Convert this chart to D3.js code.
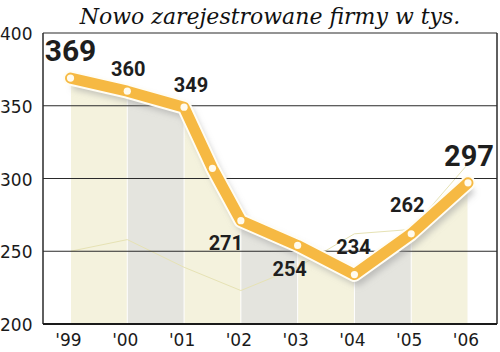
<!DOCTYPE html>
<html>
<head>
<meta charset="utf-8">
<script src="https://cdn.jsdelivr.net/npm/d3@7"></script>
<style>
  body { margin: 0; background: #fff; }
  svg { display: block; }
</style>
</head>
<body>
<div id="chart"></div>
<script>
// Newly registered firms (thousands), 1999-2006, with one extra mid-2001 reading.
const years = [1999, 2000, 2001, 2001.5, 2002, 2003, 2004, 2005, 2006];
const values = [369, 360, 349, 307, 271, 254, 234, 262, 297];
const labelled = [true, true, true, false, true, true, true, true, true];
const tickYears = [1999, 2000, 2001, 2002, 2003, 2004, 2005, 2006];
const tickLabels = ["'99", "'00", "'01", "'02", "'03", "'04", "'05", "'06"];
const yTicks = [200, 250, 300, 350, 400];
// faint background trace seen in the original graphic
const ghostValues = [250, 258, 239, 223, 239, 262, 265, 310];

// label placement relative to each point (dx, dy, font size)
const labelOffsets = [
  [0, -17, 30], [1, -15, 20], [7, -15, 20], null, [-15, 29, 20],
  [-8, 31, 20], [-1, -21, 20], [-4, -22, 20], [1, -17, 29]
];

const width = 500, height = 352;
const m = { top: 33, right: 3, bottom: 28, left: 43 };

const svg = d3.select('#chart').append('svg').attr('width', width).attr('height', height);

const x = d3.scaleLinear().domain([1999, 2006]).range([70.5, 468]);
const y = d3.scaleLinear().domain([200, 400]).range([height - m.bottom, m.top]);

const defs = svg.append('defs');
defs.append('filter').attr('id', 'shadow').attr('x', '-20%').attr('y', '-20%')
  .attr('width', '140%').attr('height', '140%')
  .append('feGaussianBlur').attr('stdDeviation', 3);

const line = d3.line().x((d, i) => x(years[i])).y(d => y(d));
const area = d3.area().x((d, i) => x(years[i])).y0(y(200)).y1(d => y(d));

defs.append('clipPath').attr('id', 'under')
  .append('path').attr('d', area(values));

// Alternating year columns, only shown below the line.
const cols = d3.range(tickYears.length - 1);
svg.append('g').attr('clip-path', 'url(#under)')
  .selectAll('rect').data(cols).enter().append('rect')
  .attr('x', i => x(tickYears[i]) + 0.5)
  .attr('width', i => x(tickYears[i + 1]) - x(tickYears[i]) - 1)
  .attr('y', m.top)
  .attr('height', y(200) - m.top)
  .attr('fill', i => i % 2 ? '#e4e4de' : '#f4f2dd');

// Faint ghost line
svg.append('path')
  .attr('d', d3.line().x((d, i) => x(tickYears[i])).y(d => y(d))(ghostValues))
  .attr('fill', 'none').attr('stroke', '#e6e2b4').attr('stroke-width', 1);

// Grid lines
svg.append('g').selectAll('line').data(yTicks.slice(1)).enter().append('line')
  .attr('x1', m.left).attr('x2', width - m.right)
  .attr('y1', d => y(d)).attr('y2', d => y(d))
  .attr('stroke', '#2a2a2a').attr('stroke-width', 1.2);

// Frame: left, right and bottom
svg.append('line').attr('x1', m.left).attr('x2', m.left)
  .attr('y1', y(400)).attr('y2', y(200)).attr('stroke', '#2a2a2a').attr('stroke-width', 1.5);
svg.append('line').attr('x1', width - m.right).attr('x2', width - m.right)
  .attr('y1', y(400)).attr('y2', y(200)).attr('stroke', '#2a2a2a').attr('stroke-width', 1.5);
svg.append('line').attr('x1', m.left).attr('x2', width - m.right)
  .attr('y1', y(200)).attr('y2', y(200)).attr('stroke', '#1a1a1a').attr('stroke-width', 2);

// Y tick labels
svg.append('g').selectAll('text').data(yTicks).enter().append('text')
  .attr('x', 0).attr('y', d => y(d) + 7)
  .attr('font-family', 'DejaVu Sans').attr('font-size', 17)
  .attr('fill', '#1a1a1a').text(d => d);

// X tick labels
svg.append('g').selectAll('text').data(tickYears).enter().append('text')
  .attr('x', d => x(d) - 2).attr('y', 346)
  .attr('text-anchor', 'middle')
  .attr('font-family', 'DejaVu Sans').attr('font-size', 17)
  .attr('fill', '#1a1a1a').text((d, i) => tickLabels[i]);

// Line: shadow, white outline, orange core
svg.append('path').attr('d', line(values))
  .attr('transform', 'translate(3,5)')
  .attr('fill', 'none').attr('stroke', '#9a9a9a').attr('stroke-opacity', 0.55)
  .attr('stroke-width', 12).attr('stroke-linejoin', 'round')
  .attr('filter', 'url(#shadow)');
svg.append('path').attr('d', line(values))
  .attr('fill', 'none').attr('stroke', '#fffdf4').attr('stroke-width', 15)
  .attr('stroke-linejoin', 'round').attr('stroke-linecap', 'round');
svg.append('path').attr('d', line(values))
  .attr('fill', 'none').attr('stroke', '#f6b943').attr('stroke-width', 11)
  .attr('stroke-linejoin', 'round').attr('stroke-linecap', 'round');

svg.append('g').selectAll('circle').data(values).enter().append('circle')
  .attr('cx', (d, i) => x(years[i])).attr('cy', d => y(d))
  .attr('r', 3.6).attr('fill', '#fffbee');

// Value labels
svg.append('g').selectAll('text').data(values).enter()
  .filter((d, i) => labelled[i])
  .append('text')
  .each(function (d) {
    const i = values.indexOf(d);
    const o = labelOffsets[i];
    d3.select(this)
      .attr('x', x(years[i]) + o[0]).attr('y', y(d) + o[1])
      .attr('font-size', o[2]);
  })
  .attr('text-anchor', 'middle')
  .attr('font-family', 'Roboto').attr('font-weight', 'bold')
  .attr('fill', '#1e1e1e').text(d => d);

// Title
svg.append('text').attr('x', 270).attr('y', 24).attr('text-anchor', 'middle')
  .attr('font-family', 'DejaVu Serif').attr('font-style', 'italic')
  .attr('font-size', 22).attr('fill', '#111')
  .text('Nowo zarejestrowane firmy w tys.');
</script>
</body>
</html>
